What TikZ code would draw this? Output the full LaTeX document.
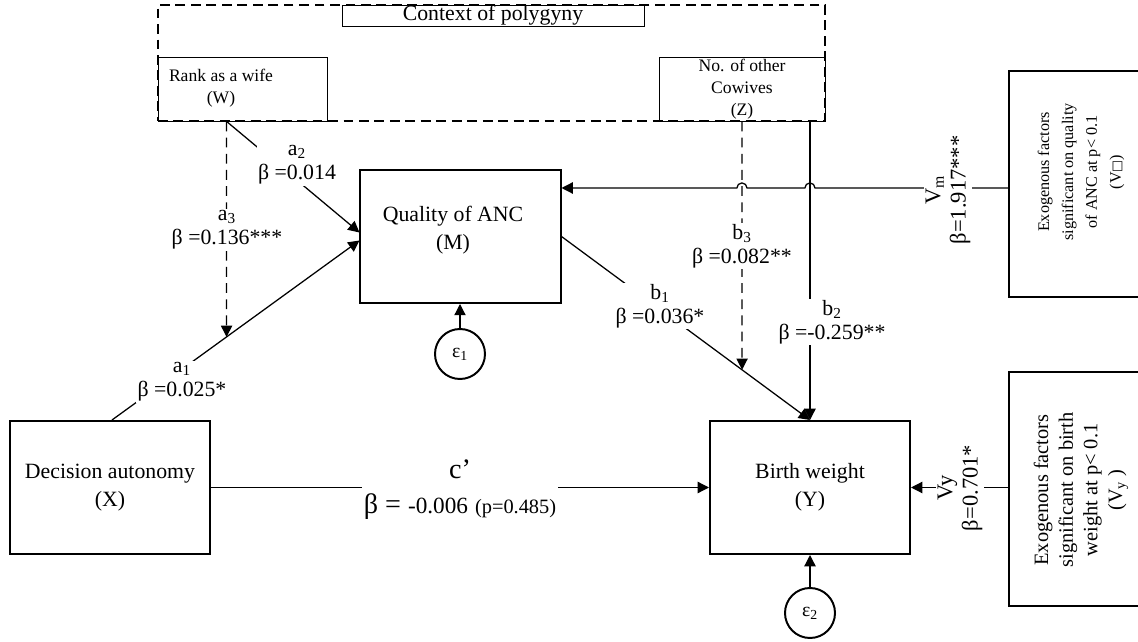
\documentclass[tikz,border=0pt]{standalone}
\usepackage{fontspec}
\setmainfont{Liberation Serif}
\newfontfamily\boxglyphfont{DejaVu Sans}
\usetikzlibrary{arrows.meta,calc}

\newcommand{\fsmain}{\fontsize{15.5}{20}\selectfont}
\newcommand{\fslab}{\fontsize{15.5}{17}\selectfont}
\newcommand{\fssmall}{\fontsize{12.5}{15.6}\selectfont}
\newcommand{\fsext}{\fontsize{11.5}{17}\selectfont}
\newcommand{\fsextb}{\fontsize{14.5}{17.5}\selectfont}
\newcommand{\fsv}{\fontsize{16}{18}\selectfont}

\tikzset{
	mainbox/.style={draw, line width=1.4pt, minimum width=5cm, minimum height=3.325cm, align=center, font=\fsmain, inner sep=0pt},
	thinbox/.style={draw, line width=0.6pt, inner sep=0pt},
	extbox/.style={draw, line width=1.4pt, minimum width=3.575cm, inner sep=0pt},
	errnode/.style={draw, circle, line width=1.4pt, minimum size=1.25cm, inner sep=0pt, font=\fontsize{14}{16}\selectfont},
	arr/.style={-{Triangle[length=8pt,width=8pt]}, line width=0.9pt},
	dasharr/.style={arr, dash pattern=on 7pt off 4.5pt},
	coef/.style={fill=white, align=center, font=\fslab, inner sep=1pt},
}

\begin{document}
\begin{tikzpicture}[x=0.025cm, y=0.025cm]
		
		\useasboundingbox (0,0) rectangle (1138,-642);
		
		% Context of polygyny
		\node[draw, dash pattern=on 7pt off 4pt, line width=0.9pt, minimum width=16.675cm, minimum height=2.9cm, inner sep=0pt] (poly) at (491.5,-63) {};
		\node[thinbox, fill=white, minimum width=7.55cm, minimum height=0.525cm, font=\fsmain] (ctx) at (493,-15.5) {Context of polygyny};
		\node[thinbox, minimum width=4.225cm, minimum height=1.6cm] (W) at (242.5,-89) {};
		\node[font=\fssmall, align=center] (Wtxt) at (221,-88) {Rank as a wife\\(W)};
		\node[thinbox, minimum width=4.15cm, minimum height=1.6cm, font=\fssmall, align=center] (Z) at (742,-89) {No. of other\\Cowives\\(Z)};
		
		% Main boxes
		\node[mainbox] (M) at (460.5,-236.5) {};
		\node[font=\fsmain, align=center] (Mtxt) at (453,-230) {Quality of ANC\\(M)};
		\node[mainbox] (X) at (110,-487.5) {Decision autonomy\\(X)};
		\node[mainbox] (Y) at (810,-487.5) {Birth weight\\(Y)};
		\node[errnode] (e1) at (460,-354) {ε\textsubscript{1}};
		\node[errnode] (e2) at (810,-613) {ε\textsubscript{2}};
		
		% Exogenous factors
		\node[extbox, minimum height=5.65cm] (VmBox) at (1080.5,-184) {};
		\node[rotate=90, align=center, font=\fsext] (VmTxt) at (1081,-172) {Exogenous factors\\significant on quality\\of ANC at p< 0.1\\(V{\boxglyphfont\fontsize{9}{9}\selectfont □})};
		\node[extbox, minimum height=5.85cm] (VyBox) at (1080.5,-489) {};
		\node[rotate=90, align=center, font=\fsextb] (VyTxt) at (1081,-490) {Exogenous factors\\significant on birth\\weight at p< 0.1\\(V\textsubscript{y} )};
		
		% Connector ends
		\coordinate (a1s) at ($(X.north)+(2,0)$);
		\coordinate (a1e) at ($(M.west)+(0,-4)$);
		\coordinate (a2e) at ($(M.west)+(0,4)$);
		\coordinate (Wb) at ($(W.south west)+(69,0)$);
		\coordinate (Wd) at ($(Wb)+(0,-400)$);
		\coordinate (a3e) at (intersection of Wb--Wd and a1s--a1e);
		\coordinate (Zd) at ($(Z.south)+(0,-400)$);
		\coordinate (b3e) at (intersection of Z.south--Zd and M.east--Y.north);
		\coordinate (b2s) at (Y.north |- Z.south);
		\coordinate (vmin) at ($(M.east)+(0,48.5)$);
		\coordinate (vmout) at (VmBox.west |- vmin);
		
		% Arrows
		\draw[arr] (a1s) -- (a1e);
		\draw[arr] (Wb) -- (a2e);
		\draw[dasharr] (Wb) -- (a3e);
		\draw[arr] (M.east) -- (Y.north);
		\draw[arr] (b2s) -- (Y.north);
		\draw[dasharr] (Z.south) -- (b3e);
		\draw[arr] (X.east) -- (Y.west);
		\draw[arr] (e1) -- (e1 |- M.south);
		\draw[arr] (e2) -- (e2 |- Y.south);
		\draw[arr] (VyBox.west |- Y.east) -- (Y.east);
		\draw[arr] (vmout) -- ($(b2s |- vmin)+(5,0)$) arc[start angle=0, end angle=180, radius=3.6pt]
			-- ($(Z.south |- vmin)+(5,0)$) arc[start angle=0, end angle=180, radius=3.6pt] -- (vmin);
		
		% Labels
		\node[coef] (a1lab) at (182,-382) {a\textsubscript{1}\\β =0.025*};
		\node[coef] (a2lab) at (297,-165) {a\textsubscript{2}\\β =0.014};
		\node[coef] (a3lab) at (227,-230) {a\textsubscript{3}\\β =0.136***};
		\node[coef] (b1lab) at (660,-306) {b\textsubscript{1}\\β =0.036*};
		\node[coef] (b2lab) at (832,-322) {b\textsubscript{2}\\β =-0.259**};
		\node[coef] (b3lab) at (742,-246) {b\textsubscript{3}\\β =0.082**};
		\node[coef, font=\fontsize{20}{25}\selectfont] (clab) at (460,-490) {c’\\β = {\fontsize{16.5}{20}\selectfont -0.006} {\fontsize{14.5}{17}\selectfont (p=0.485)}};
		\node[coef, font=\fsv, rotate=90] (vmlab) at (948,-190) {V\textsubscript{m}\\β=1.917***};
		\node[coef, font=\fsv, rotate=90] (vylab) at (960,-488) {Vy\\β=0.701*};
		
\end{tikzpicture}
\end{document}
